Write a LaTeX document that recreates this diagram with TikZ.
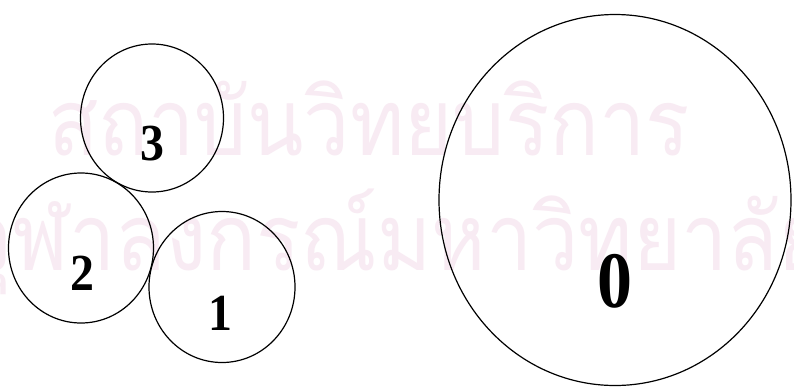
\documentclass[tikz,border=0pt]{standalone}
\usepackage{fontspec}
\setmainfont{Liberation Serif}
\newfontfamily\thaifont[Script=Thai]{Loma}
\usetikzlibrary{shapes.geometric}
\definecolor{wmpink}{RGB}{248,235,243}
\newsavebox\wmboxA
\newsavebox\wmboxP
\newcommand\wmsize{\thaifont\fontsize{93}{93}\selectfont}
\sbox\wmboxA{\wmsize สถาบันวิทยบริการ}
\sbox\wmboxP{\wmsize จุฬาลงกรณ์}
\tikzset{
  disk/.style={draw=black, line width=1.2pt, ellipse, inner sep=0pt},
  digit/.style={font=\bfseries\fontsize{52}{52}\selectfont, inner sep=0pt, xscale=0.92},
  wm/.style={text=wmpink, inner sep=0pt, anchor=base west}
}
\begin{document}
\begin{tikzpicture}[x=1pt,y=-1pt]
\pgfmathsetmacro\wmsx{642/\the\wd\wmboxA}
\pgfmathsetmacro\wmshift{377-\wmsx*\the\wd\wmboxP}
\useasboundingbox (0,0) rectangle (794,386);
\fill[white] (0,0) rectangle (794,386);
% watermark
\node[wm, xscale=\wmsx] (wm1) at (48,155) {\wmsize สถาบันวิทยบริการ};
\node[wm, xscale=\wmsx] (wm2) at (\wmshift,270) {\wmsize จุฬาลงกรณ์มหาวิทยาลัย};
% disks
\node[disk, minimum width=143pt, minimum height=148pt] (c3) at (152,118) {};
\node[disk, minimum width=145pt, minimum height=150pt] (c2) at (81,248) {};
\node[disk, minimum width=146pt, minimum height=151pt] (c1) at (222,287) {};
\node[disk, minimum width=352pt, minimum height=371pt] (c0) at (615,200) {};
% labels
\node[digit] (l3) at (152,144) {3};
\node[digit] (l2) at (82,273) {2};
\node[digit] (l1) at (220,313) {1};
\node[digit, font=\bfseries\fontsize{80}{80}\selectfont, xscale=0.95] (l0) at (615,281) {0};
\end{tikzpicture}
\end{document}
